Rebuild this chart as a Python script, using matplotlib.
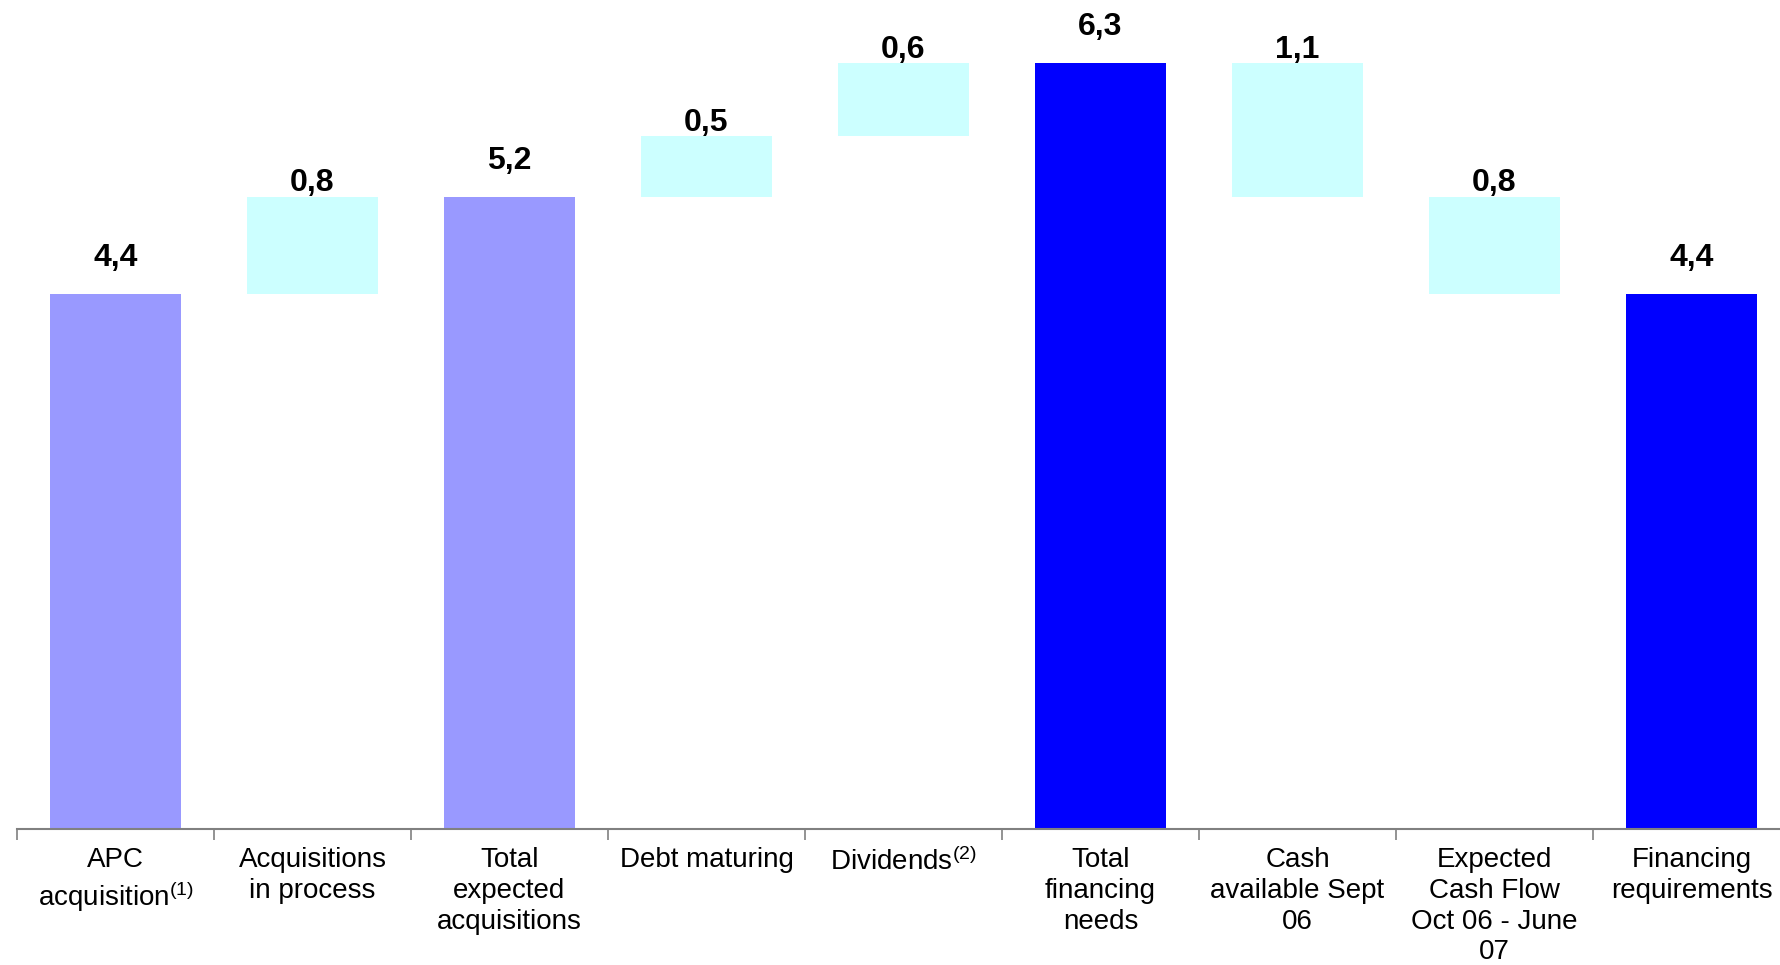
import matplotlib
matplotlib.use("Agg")
import matplotlib.pyplot as plt
import numpy as np

# ─── Data ─────────────────────────────────────────────────────────────────────

categories = [
    "APC\nacquisition$^{(1)}$",
    "Acquisitions\nin process",
    "Total\nexpected\nacquisitions",
    "Debt maturing",
    "Dividends$^{(2)}$",
    "Total\nfinancing\nneeds",
    "Cash\navailable Sept\n06",
    "Expected\nCash Flow\nOct 06 - June\n07",
    "Financing\nrequirements",
]
values = [4.4, 0.8, 5.2, 0.5, 0.6, 6.3, 1.1, 0.8, 4.4]
kinds  = ["total", "add", "total", "add", "add", "total", "sub", "sub", "total"]
labels = ["4,4", "0,8", "5,2", "0,5", "0,6", "6,3", "1,1", "0,8", "4,4"]

total_colors = ["#9999FF", "#9999FF", "#0000FF", "#0000FF"]
step_color   = "#CCFFFF"

# ─── Fonts ────────────────────────────────────────────────────────────────────

plt.rcParams["font.family"] = ["Liberation Sans", "DejaVu Sans"]
plt.rcParams["mathtext.fontset"] = "custom"
plt.rcParams["mathtext.rm"] = "Liberation Sans"
plt.rcParams["mathtext.it"] = "Liberation Sans"
plt.rcParams["mathtext.bf"] = "Liberation Sans:bold"

# ─── Waterfall geometry ───────────────────────────────────────────────────────

bottoms, heights, colors = [], [], []
level = 0.0
ti = 0
for v, k in zip(values, kinds):
    if k == "total":
        bottoms.append(0.0)
        heights.append(v)
        colors.append(total_colors[ti])
        ti += 1
        level = v
    elif k == "add":
        bottoms.append(level)
        heights.append(v)
        colors.append(step_color)
        level += v
    else:
        level -= v
        bottoms.append(level)
        heights.append(v)
        colors.append(step_color)

x = np.arange(len(values))

fig = plt.figure(figsize=(17.8, 9.65), dpi=100)
ax = fig.add_axes([17 / 1780, 136 / 965, 1773 / 1780, 829 / 965])

ax.bar(x, heights, bottom=bottoms, width=0.67, color=colors, edgecolor="none")

for xi, b, h, k, lab in zip(x, bottoms, heights, kinds, labels):
    off = 20 if k == "total" else 4
    ax.annotate(lab, (xi, b + h), xytext=(0, off), textcoords="offset points",
                ha="center", va="baseline", fontsize=23, fontweight="bold")

ax.set_xlim(-0.5, len(values) - 0.5)
ax.set_ylim(0, 6.82)

for s in ["top", "right", "left"]:
    ax.spines[s].set_visible(False)
ax.spines["bottom"].set_color("#808080")
ax.spines["bottom"].set_linewidth(1.5)
ax.set_yticks([])

ax.set_xticks(x)
ax.set_xticklabels(categories, fontsize=20, linespacing=1.24, ha="center",
                   multialignment="center")
ax.tick_params(axis="x", which="major", length=0, pad=13)
ax.set_xticks(np.arange(len(values) + 1) - 0.5, minor=True)
ax.tick_params(axis="x", which="minor", length=8, width=1.2, color="#808080")

fig.savefig("out.png", dpi=100)
